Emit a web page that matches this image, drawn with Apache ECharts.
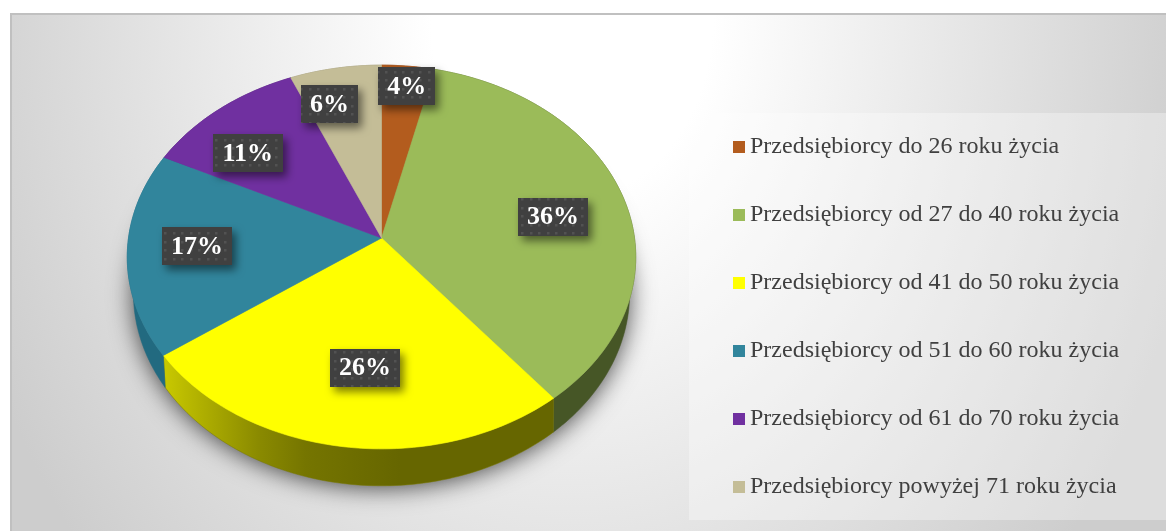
<!DOCTYPE html>
<html lang="pl">
<head>
<meta charset="utf-8">
<title>Przedsiębiorcy według wieku</title>
<style>
html,body{margin:0;padding:0;width:1166px;height:531px;background:#fff;overflow:hidden}
#panel{position:absolute;left:10px;top:13px;right:0;bottom:0;border-top:2px solid #c0c0c0;border-left:2px solid #c0c0c0;
background:radial-gradient(ellipse 640px 830px at 560px 0px,#ffffff 0%,#ffffff 22%,#cdcdcd 100%)}
#chart{position:absolute;left:0;top:0;width:1166px;height:531px}
</style>
<script src="https://cdn.jsdelivr.net/npm/echarts@6/dist/echarts.min.js"></script>
</head>
<body>
<div id="panel"></div>
<div id="chart"></div>
<script>
const categories = [
  'Przedsiębiorcy do 26 roku życia',
  'Przedsiębiorcy od 27 do 40 roku życia',
  'Przedsiębiorcy od 41 do 50 roku życia',
  'Przedsiębiorcy od 51 do 60 roku życia',
  'Przedsiębiorcy od 61 do 70 roku życia',
  'Przedsiębiorcy powyżej 71 roku życia'
];
const values = [3.7, 35.5, 25.9, 17.2, 11.3, 6.4];
const topColors = ['#B35C1E', '#9BBB59', '#FFFF00', '#31859C', '#7030A0', '#C4BD97'];
const sideColors = ['#7a3e14', '#465626', null, '#226a80', '#4d2170', '#8a8469'];
const labelNudge = [[6, -28], [1.5, 7.5], [9, -12], [-7, -3], [-18, 7], [-19, -12]];

const total = values.reduce((a, b) => a + b, 0);
const starts = values.map((_, i) => values.slice(0, i).reduce((a, b) => a + b, 0));

// Tilted-disc projection: unit circle to screen, with perspective
const topFace = {cx: 381.5, cy: 238, a: 190, b: 253, k: 0.099};
const baseFace = {cx: 381.5, cy: 268, a: 189.5, b: 246, k: 0.13};
function project(face, theta, f) {
  const u = Math.sin(theta) * f, v = Math.cos(theta) * f, d = 1 + face.k * v;
  return [face.cx + face.b * u / d, face.cy - face.a * v / d];
}
function arc(face, t0, t1, n) {
  const pts = [];
  for (let i = 0; i <= n; i++) pts.push(project(face, t0 + (t1 - t0) * i / n, 1));
  return pts;
}
const toAngle = p => p / total * 2 * Math.PI;

const dotCanvas = document.createElement('canvas');
dotCanvas.width = dotCanvas.height = 17;
(function () {
  const c = dotCanvas.getContext('2d');
  c.fillStyle = '#404040'; c.fillRect(0, 0, 17, 17);
  c.fillStyle = '#525252';
  [[3, 3], [11, 3], [3, 11], [11, 11]].forEach(p => c.fillRect(p[0], p[1], 2.5, 2.5));
})();

function renderSlice(i) {
  return function (params, api) {
    const v = api.value(0);
    const t0 = toAngle(starts[i]), t1 = toAngle(starts[i] + v);
    const n = Math.max(8, Math.round(v * 3));
    const rim = arc(topFace, t0, t1, n);
    const sidePts = rim.concat(arc(baseFace, t0, t1, n).reverse());
    const sideFill = sideColors[i] || {
      type: 'linear', x: 165, y: 0, x2: 400, y2: 0, global: true,
      colorStops: [{offset: 0, color: '#c8c800'}, {offset: 0.15, color: '#b0b000'}, {offset: 0.4, color: '#8a8a00'}, {offset: 0.6, color: '#757500'}, {offset: 1, color: '#666600'}]
    };
    const topPts = [project(topFace, 0, 0)].concat(rim);
    const mid = project(topFace, (t0 + t1) / 2, 0.7);
    const cx = mid[0] + labelNudge[i][0], cy = mid[1] + labelNudge[i][1];
    const text = Math.round(v / total * 100) + '%';
    const w = text.length * 13 + 5 + 26, h = 38;
    return {
      type: 'group',
      children: [
        {type: 'polygon', z2: 1, shape: {points: sidePts},
          style: {fill: sideFill, stroke: typeof sideFill === 'string' ? sideFill : '#767600', lineWidth: 0.5}},
        {type: 'polygon', z2: 2, shape: {points: topPts},
          style: {fill: topColors[i], stroke: topColors[i], lineWidth: 0.6}},
        {type: 'rect', z2: 3, shape: {x: Math.round(cx - w / 2), y: Math.round(cy - h / 2), width: w, height: h},
          style: {fill: {image: dotCanvas, repeat: 'repeat'}, shadowBlur: 8, shadowOffsetX: 4, shadowOffsetY: 5, shadowColor: 'rgba(0,0,0,0.5)'}},
        {type: 'text', z2: 4, x: cx, y: cy + 1,
          style: {text: text, fill: '#fff', align: 'center', verticalAlign: 'middle',
            font: 'bold 26px "Liberation Serif", serif'}}
      ]
    };
  };
}

function renderBase(params, api) {
  const outline = arc(baseFace, 0, 2 * Math.PI, 180);
  return {type: 'polygon', z2: 0, shape: {points: outline},
    style: {fill: '#8d8d8d', shadowBlur: 24, shadowOffsetY: 2, shadowColor: 'rgba(0,0,0,0.7)'}};
}

const series = [{type: 'custom', name: 'base', coordinateSystem: 'none', silent: true, data: [[1]], renderItem: renderBase}];
categories.forEach((name, i) => {
  series.push({type: 'custom', name: name, coordinateSystem: 'none', data: [[values[i]]], renderItem: renderSlice(i),
    itemStyle: {color: topColors[i]}});
});

const chart = echarts.init(document.getElementById('chart'), null, {renderer: 'canvas'});
chart.setOption({
  animation: false,
  backgroundColor: 'transparent',
  legend: {
    data: categories,
    orient: 'vertical',
    left: 689, top: 113,
    padding: [22, 50, 21, 44],
    backgroundColor: 'rgba(255,255,255,0.33)',
    icon: 'rect', itemWidth: 12, itemHeight: 12, itemGap: 44,
    selectedMode: false,
    textStyle: {fontFamily: '"Liberation Serif", serif', fontSize: 24, color: '#404040', lineHeight: 24}
  },
  series: series
});
</script>
</body>
</html>
